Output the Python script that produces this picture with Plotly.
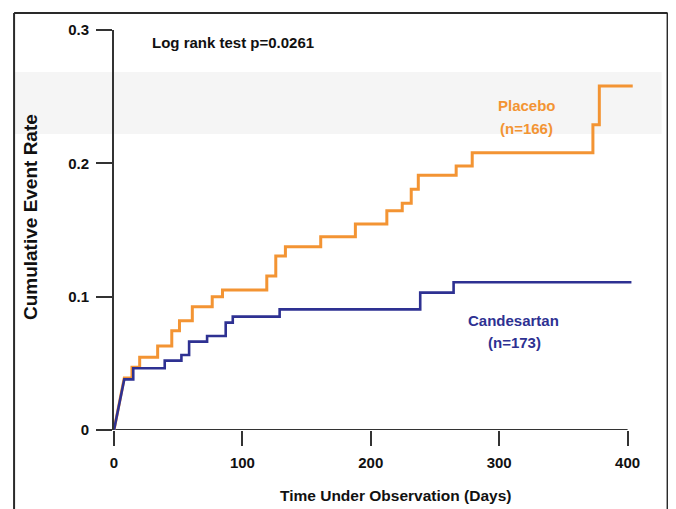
import plotly.graph_objects as go

# ---- data ----
placebo_days = [0, 8, 14, 20, 34, 45, 51, 61, 76.5, 84.5, 119, 126, 133.5, 161, 188, 212.5,
                224.5, 231.5, 237, 266.5, 279, 373, 378, 404]
placebo_rate = [0, 0.039, 0.047, 0.0545, 0.063, 0.0745, 0.082, 0.0925, 0.100, 0.105, 0.1155,
                0.1305, 0.1375, 0.145, 0.1545, 0.1645, 0.170, 0.1805, 0.191, 0.198, 0.208,
                0.229, 0.258, 0.258]

candesartan_days = [0, 8, 15, 39.5, 52.5, 58.5, 72.5, 87, 92.5, 129, 238.5, 264.5, 403]
candesartan_rate = [0, 0.038, 0.0463, 0.052, 0.0563, 0.0663, 0.0705, 0.0805, 0.085, 0.0905,
                    0.103, 0.1108, 0.1108]

x_ticks = [0, 100, 200, 300, 400]
x_tick_labels = ["0", "100", "200", "300", "400"]
y_ticks = [0, 0.1, 0.2, 0.3]
y_tick_labels = ["0", "0.1", "0.2", "0.3"]

# page body margin offsets the figure by 8px in the screenshot
OFF = 8
W, H = 676, 509
# screen-space plot box: x 114..634.4, y 30..430
L = 114 - OFF
T = 30 - OFF
R = W - (634.4 - OFF)
B = H - (430 - OFF)
PW, PH = W - L - R, H - T - B

def px(sx):
    return (sx - OFF - L) / PW

def py(sy):
    return (H - B - (sy - OFF)) / PH

def km_path(t, y):
    xs, ys = [t[0], t[1]], [y[0], y[1]]
    for i in range(2, len(t)):
        xs += [t[i], t[i]]
        ys += [y[i - 1], y[i]]
    return xs, ys

ORANGE = "#F39433"
NAVY = "#2E3192"
AX = "#333333"
FONT = "Liberation Sans, Arial, sans-serif"

fig = go.Figure()
xs, ys = km_path(placebo_days, placebo_rate)
fig.add_trace(go.Scatter(x=xs, y=ys, mode="lines", line=dict(color=ORANGE, width=3),
                         name="Placebo", showlegend=False))
xs, ys = km_path(candesartan_days, candesartan_rate)
fig.add_trace(go.Scatter(x=xs, y=ys, mode="lines", line=dict(color=NAVY, width=2.6),
                         name="Candesartan", showlegend=False))

shapes = [
    # faint scan band
    dict(type="rect", xref="paper", yref="paper", x0=px(14), x1=px(662), y0=py(134), y1=py(72),
         fillcolor="#f5f5f5", line=dict(width=0), layer="below"),
    # x-axis line from 0 to 400
    dict(type="line", xref="x", yref="y", x0=0, x1=400, y0=0, y1=0,
         line=dict(color=AX, width=2), layer="below"),
    # frame border
    dict(type="line", xref="paper", yref="paper", x0=px(14), x1=px(14), y0=py(13), y1=py(515),
         line=dict(color="#2a2a2a", width=2)),
    dict(type="line", xref="paper", yref="paper", x0=px(14), x1=px(668), y0=py(13), y1=py(13),
         line=dict(color="#2a2a2a", width=2)),
    dict(type="line", xref="paper", yref="paper", x0=px(668), x1=px(668), y0=py(13), y1=py(515),
         line=dict(color="#2a2a2a", width=2)),
]

def ann(text, x, y, size=15, color="#111111", angle=0, xanchor="center"):
    return dict(text="<b>%s</b>" % text, xref="paper", yref="paper", x=px(x), y=py(y),
                xanchor=xanchor, yanchor="middle", showarrow=False, textangle=angle,
                font=dict(family=FONT, size=size, color=color))

annotations = [
    ann("Log rank test p=0.0261", 150, 42, size=15, xanchor="left"),
    ann("Placebo", 527, 106, color=ORANGE),
    ann("(n=166)", 527, 128, color=ORANGE),
    ann("Candesartan", 514, 320, color=NAVY),
    ann("(n=173)", 515, 342, color=NAVY),
    ann("Cumulative Event Rate", 30, 217, size=19, angle=-90),
    ann("Time Under Observation (Days)", 396, 495, size=15.5),
]

fig.update_layout(
    width=W, height=H,
    margin=dict(l=L, r=R, t=T, b=B, pad=0),
    paper_bgcolor="white", plot_bgcolor="rgba(0,0,0,0)",
    showlegend=False,
    shapes=shapes, annotations=annotations,
    font=dict(family=FONT, color="#111111"),
    xaxis=dict(range=[0, 405], tickvals=x_ticks, ticktext=x_tick_labels, showgrid=False,
               zeroline=False, showline=False, ticks="outside", ticklen=15, tickwidth=2,
               tickcolor=AX, tickfont=dict(family=FONT, size=15, color="#111111", weight="bold"),
               ticklabelstandoff=4, fixedrange=True),
    yaxis=dict(range=[0, 0.3], tickvals=y_ticks, ticktext=y_tick_labels, showgrid=False,
               zeroline=False, showline=True, linecolor=AX, linewidth=2, ticks="outside",
               ticklen=16, tickwidth=2, tickcolor=AX,
               tickfont=dict(family=FONT, size=15, color="#111111", weight="bold"),
               ticklabelstandoff=4, fixedrange=True),
)

fig.write_html("out.html")
